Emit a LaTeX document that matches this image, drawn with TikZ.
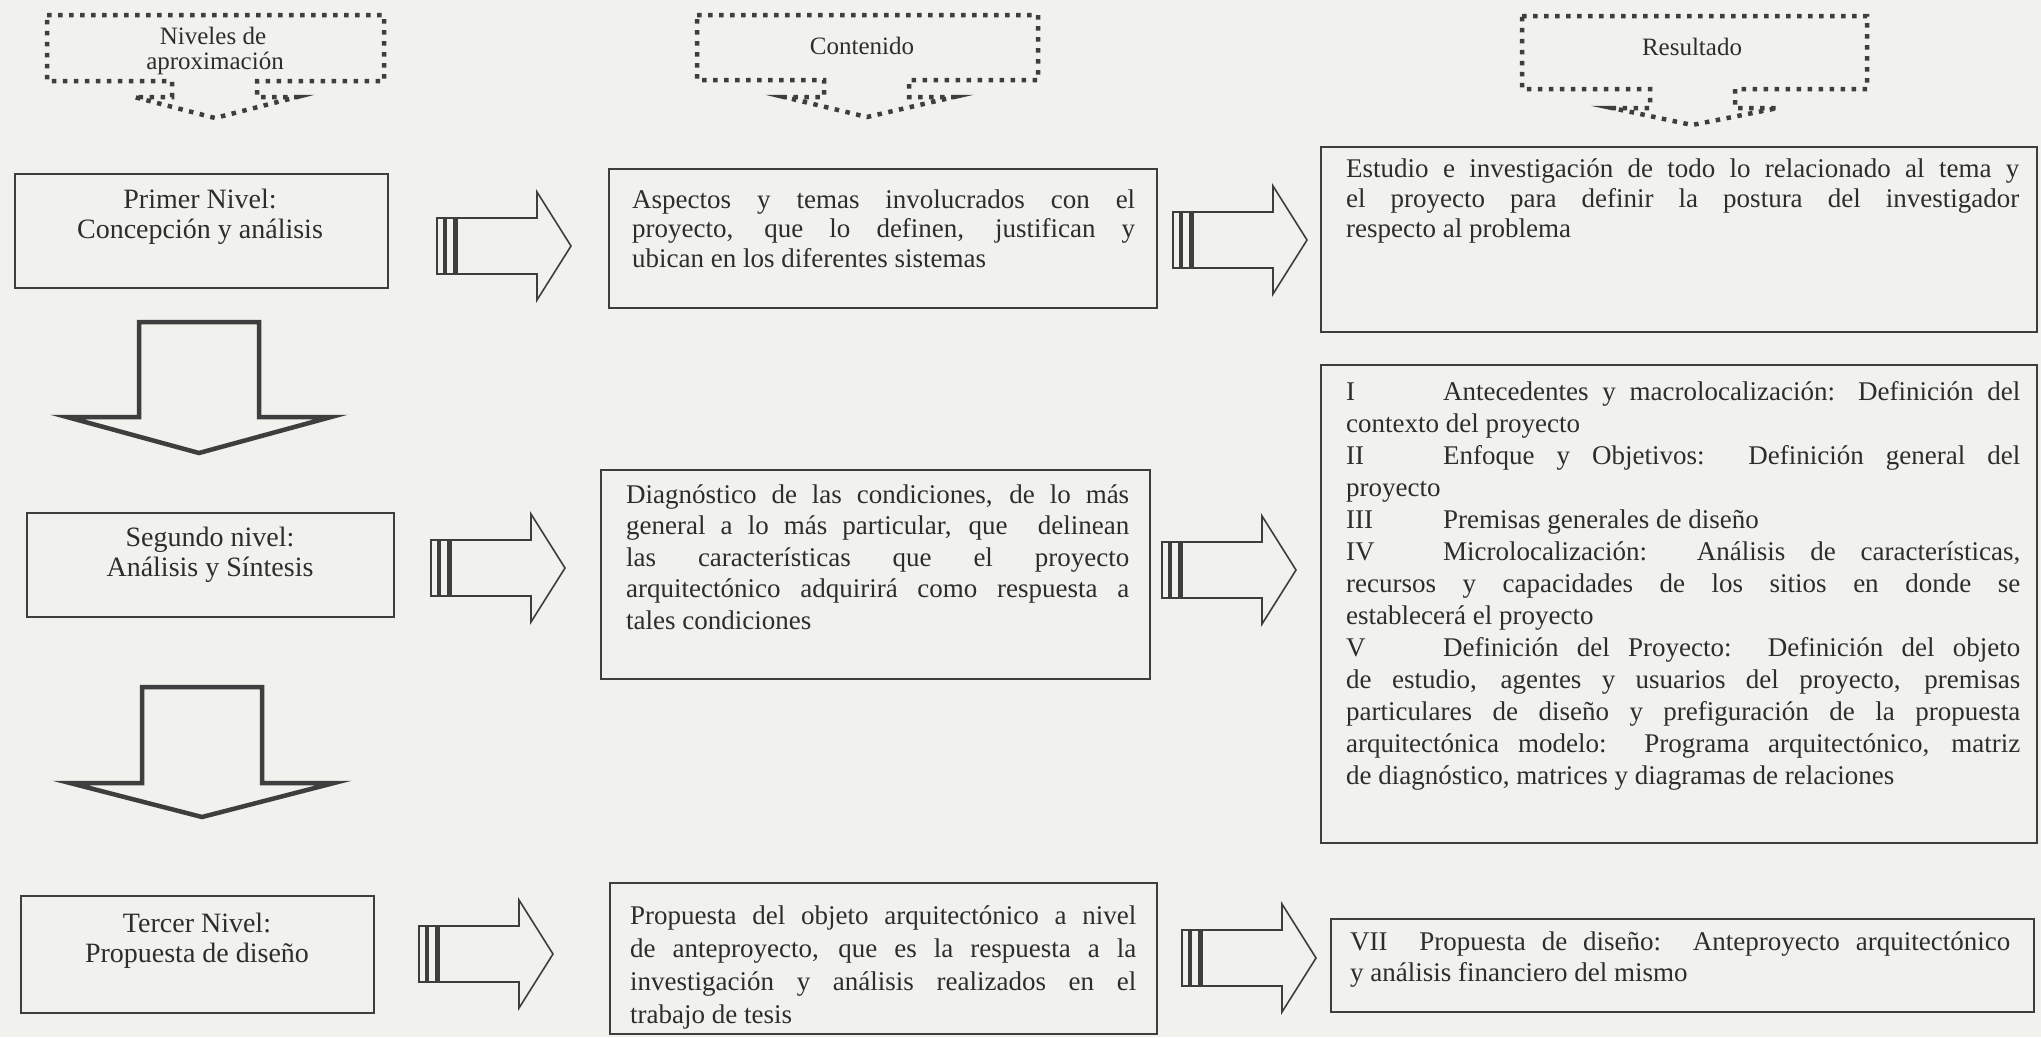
\documentclass[tikz,border=0pt]{standalone}
\usepackage{fontspec}
\setmainfont{Liberation Serif}
\definecolor{bg}{RGB}{241,241,237}
\definecolor{ink}{RGB}{45,45,45}
\definecolor{edge}{RGB}{62,62,62}
\newcommand\jl[1]{\makebox[\linewidth][s]{#1}}
\newcommand\myRArrow[2]{%
  \draw[rarrow] ({#1+20},{#2-28}) -- ({#1+100},{#2-28}) -- ({#1+100},{#2-54}) -- ({#1+134},#2) -- ({#1+100},{#2+54}) -- ({#1+100},{#2+28}) -- ({#1+20},{#2+28});
  \draw[barline] (#1,{#2-28}) rectangle ({#1+7},{#2+28});
  \draw[barline] ({#1+9},{#2-28}) rectangle ({#1+20},{#2+28});
  \fill[edge] ({#1+16},{#2-28}) rectangle ({#1+20},{#2+28});
}
\newcommand\myDArrow[4]{%
  \draw[darrow] ({#1-60},#2) -- ({#1+60},#2) -- ({#1+60},#3) -- ({#1+132},#3) -- (#1,#4) -- ({#1-132},#3) -- ({#1-60},#3) -- cycle;
}
\begin{document}
\begin{tikzpicture}[x=1pt,y=-1pt,
  box/.style={draw=edge,line width=2.4pt,fill=bg,inner sep=0pt,anchor=north west},
  callout/.style={draw=edge,line width=4.5pt,dash pattern=on 4.5pt off 6.5pt},
  darrow/.style={draw=edge,line width=4.5pt,fill=bg,line join=miter},
  rarrow/.style={draw=edge,line width=1.6pt,fill=bg},
  barline/.style={draw=edge,line width=1.3pt,fill=bg},
  txt/.style={anchor=base west,inner sep=0pt,text=ink},
  ctxt/.style={anchor=base,inner sep=0pt,text=ink,font=\fontsize{28}{30}\selectfont},
  head/.style={anchor=base,inner sep=0pt,text=ink,font=\fontsize{25}{25}\selectfont}]
\fill[bg] (0,0) rectangle (2041,1037);
\useasboundingbox (0,0) rectangle (2041,1037);
\clip (0,0) rectangle (2041,1037);

% dotted callouts
\draw[callout] (47,15) -- (384,15) -- (384,81) -- (257,81) -- (257,97) -- (297,97) -- (215,118) -- (134,97) -- (172,97) -- (172,81) -- (47,81) -- cycle;
\draw[callout] (697,15) -- (1038,15) -- (1038,80) -- (909,80) -- (909,97) -- (954,97) -- (867,117) -- (784,97) -- (824,97) -- (824,80) -- (697,80) -- cycle;
\draw[callout] (1522,16) -- (1867,16) -- (1867,89) -- (1735,89) -- (1735,108) -- (1778,108) -- (1692,125) -- (1612,108) -- (1650,108) -- (1650,89) -- (1522,89) -- cycle;
\node[head] (h1a) at (213,44) {Niveles de};
\node[head] (h1b) at (215,69) {aproximación};
\node[head] (h2) at (862,54) {Contenido};
\node[head] (h3) at (1692,55) {Resultado};

% boxes
\node[box,minimum width=373pt,minimum height=114pt] (l1) at (14,173) {};
\node[box,minimum width=367pt,minimum height=104pt] (l2) at (26,512) {};
\node[box,minimum width=353pt,minimum height=117pt] (l3) at (20,895) {};
\node[box,minimum width=548pt,minimum height=139pt] (m1) at (608,168) {};
\node[box,minimum width=549pt,minimum height=209pt] (m2) at (600,469) {};
\node[box,minimum width=547pt,minimum height=151pt] (m3) at (609,882) {};
\node[box,minimum width=716pt,minimum height=185pt] (r1) at (1320,146) {};
\node[box,minimum width=716pt,minimum height=478pt] (r2) at (1320,364) {};
\node[box,minimum width=703pt,minimum height=93pt] (r3) at (1330,918) {};

% left column texts
\node[ctxt] (tl1) at (200,208) {\parbox[t]{360pt}{\centering Primer Nivel:\\Concepción y análisis}};
\node[ctxt] (tl2) at (210,546) {\parbox[t]{360pt}{\centering Segundo nivel:\\Análisis y Síntesis}};
\node[ctxt] (tl3) at (197,932) {\parbox[t]{340pt}{\centering Tercer Nivel:\\Propuesta de diseño}};

% middle texts
\node[txt,font=\fontsize{27}{29.5}\selectfont] (tm1) at (632,208) {\parbox[t]{503pt}{%
\jl{Aspectos y temas involucrados con el}\\
\jl{proyecto, que lo definen, justifican y}\\
ubican en los diferentes sistemas}};
\node[txt,font=\fontsize{27}{31.5}\selectfont] (tm2) at (626,503) {\parbox[t]{503pt}{%
\jl{Diagnóstico de las condiciones, de lo más}\\
\jl{general a lo más particular, que~~delinean}\\
\jl{las características que el proyecto}\\
\jl{arquitectónico adquirirá como respuesta a}\\
tales condiciones}};
\node[txt,font=\fontsize{27}{33}\selectfont] (tm3) at (630,924) {\parbox[t]{506pt}{%
\jl{Propuesta del objeto arquitectónico a nivel}\\
\jl{de anteproyecto, que es la respuesta a la}\\
\jl{investigación y análisis realizados en el}\\
trabajo de tesis}};

% right texts
\node[txt,font=\fontsize{27}{30}\selectfont] (tr1) at (1346,177) {\parbox[t]{673pt}{%
\jl{Estudio e investigación de todo lo relacionado al tema y}\\
\jl{el proyecto para definir la postura del investigador}\\
respecto al problema}};
\node[txt,font=\fontsize{27}{32}\selectfont] (tr2) at (1346,400) {\parbox[t]{674pt}{%
\makebox[97pt][l]{I}\makebox[577pt][s]{Antecedentes y macrolocalización: Definición del}\\
contexto del proyecto\\
\makebox[97pt][l]{II}\makebox[577pt][s]{Enfoque y Objetivos:~~Definición general del}\\
proyecto\\
\makebox[97pt][l]{III}Premisas generales de diseño\\
\makebox[97pt][l]{IV}\makebox[577pt][s]{Microlocalización:~~Análisis de características,}\\
\jl{recursos y capacidades de los sitios en donde se}\\
establecerá el proyecto\\
\makebox[97pt][l]{V}\makebox[577pt][s]{Definición del Proyecto:~~Definición del objeto}\\
\jl{de estudio, agentes y usuarios del proyecto, premisas}\\
\jl{particulares de diseño y prefiguración de la propuesta}\\
\jl{arquitectónica modelo:~~Programa arquitectónico, matriz}\\
de diagnóstico, matrices y diagramas de relaciones}};
\node[txt,font=\fontsize{27}{31}\selectfont] (tr3) at (1350,950) {\parbox[t]{660pt}{%
\jl{VII~~Propuesta de diseño:~~Anteproyecto arquitectónico}\\
y análisis financiero del mismo}};

% block arrows
\myRArrow{437}{246}
\myRArrow{1173}{240}
\myRArrow{431}{568}
\myRArrow{1162}{570}
\myRArrow{419}{954}
\myRArrow{1182}{958}
\myDArrow{199}{322}{417}{453}
\myDArrow{202}{687}{783}{817}
\end{tikzpicture}
\end{document}
